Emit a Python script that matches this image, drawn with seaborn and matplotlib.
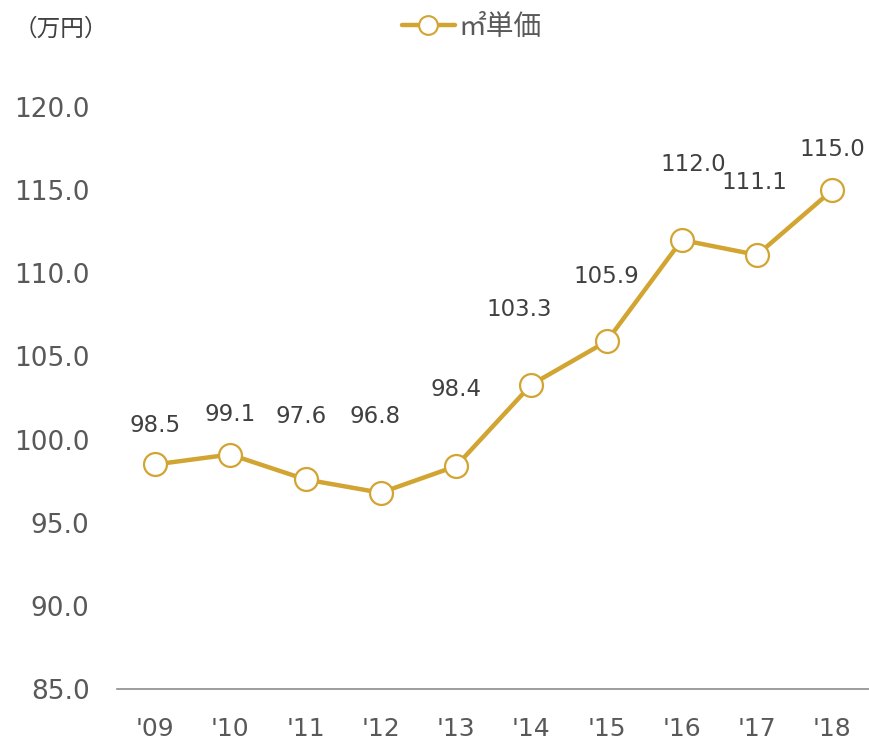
import numpy as np
import pandas as pd
import matplotlib
matplotlib.use("Agg")
import matplotlib.pyplot as plt
from matplotlib.lines import Line2D
import seaborn as sns

# data
years  = ["'09", "'10", "'11", "'12", "'13", "'14", "'15", "'16", "'17", "'18"]
prices = [98.5, 99.1, 97.6, 96.8, 98.4, 103.3, 105.9, 112.0, 111.1, 115.0]
y_ticks = [85.0, 90.0, 95.0, 100.0, 105.0, 110.0, 115.0, 120.0]

# label placement (points offset from marker)
label_dy = [28, 29, 45, 55, 55, 54, 47, 54, 52, 29]
label_dx = [0, 0, -3, -4, 0, -9, 0, 8, -2, 0]

GOLD = "#D2A431"
GRAY = "#595959"
CJK = ["Noto Sans CJK JP", "DejaVu Sans"]

sns.set_style("white")
plt.rcParams["font.family"] = "DejaVu Sans"

df = pd.DataFrame({"year": years, "price": prices, "pos": np.arange(len(years))})

fig = plt.figure(figsize=(8.7, 7.41), dpi=100)
ax = fig.add_axes([0.1349, 0.0702, 0.8651, 0.8977])

sns.lineplot(
    data=df, x="pos", y="price", ax=ax,
    color=GOLD, linewidth=3.2, marker="o", markersize=16.5,
    markerfacecolor="white", markeredgecolor=GOLD, markeredgewidth=1.6,
    legend=False,
)

for i, (p, v) in enumerate(zip(df["pos"], prices)):
    ax.annotate(f"{v:.1f}", (p, v), xytext=(label_dx[i], label_dy[i]),
                textcoords="offset points", ha="center", va="center",
                fontsize=16.5, color="#404040")

ax.set_xlim(-0.5, len(years) - 0.5)
ax.set_ylim(85, 125)
ax.set_xticks(df["pos"])
ax.set_xticklabels(years, fontsize=18, color=GRAY)
ax.set_yticks(y_ticks)
ax.set_yticklabels([f"{t:.1f}" for t in y_ticks], fontsize=19, color=GRAY)
ax.tick_params(axis="both", length=0)
ax.tick_params(axis="x", pad=20)
ax.tick_params(axis="y", pad=20)
ax.set_xlabel("")
ax.set_ylabel("")

for s in ["top", "right", "left"]:
    ax.spines[s].set_visible(False)
ax.spines["bottom"].set_color("#8C8C8C")
ax.spines["bottom"].set_linewidth(1.2)

handle = Line2D([], [], color=GOLD, linewidth=3.2, marker="o", markersize=13.5,
                markerfacecolor="white", markeredgecolor=GOLD, markeredgewidth=1.5)
leg = fig.legend([handle], ["㎡単価"], loc="center",
                 bbox_to_anchor=(472 / 870, 1 - 27 / 741), frameon=False,
                 prop={"family": CJK, "size": 20},
                 handlelength=1.9, handletextpad=0.15)
for t in leg.get_texts():
    t.set_color(GRAY)

fig.text(14 / 870, 1 - 29 / 741, "（万円）", fontsize=17, color="#404040",
         family=CJK, ha="left", va="center")

fig.savefig("out.png", dpi=100)
